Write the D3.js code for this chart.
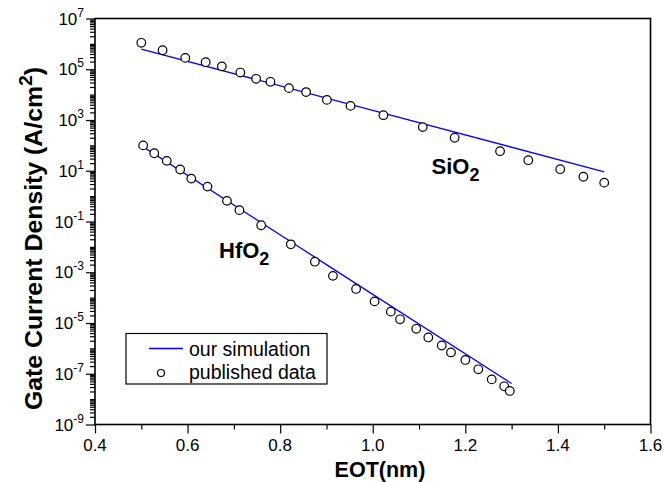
<!DOCTYPE html>
<html><head><meta charset="utf-8">
<script src="https://cdn.jsdelivr.net/npm/d3@7"></script>
<style>body{margin:0;background:#fff} svg{display:block} text{font-family:"Liberation Sans",Arial,sans-serif;fill:#000}</style>
</head><body><svg id="c" width="663" height="482"></svg>
<script>
// Published data (circles)
const sio2X = [0.50,0.546,0.595,0.639,0.674,0.714,0.748,0.779,0.819,0.856,0.901,0.952,1.023,1.108,1.177,1.275,1.336,1.405,1.455,1.50];
const sio2Y = [1.1e6,5.6e5,2.8e5,1.9e5,1.3e5,7.4e4,4.2e4,3.2e4,1.8e4,1.26e4,6.2e3,3.6e3,1.55e3,525,200,59,26,11.5,5.8,3.4];
const hfo2X = [0.504,0.528,0.555,0.584,0.608,0.643,0.685,0.712,0.759,0.823,0.875,0.914,0.964,1.004,1.039,1.059,1.094,1.120,1.149,1.169,1.200,1.228,1.257,1.284,1.296];
const hfo2Y = [100,49,24.5,11.2,4.9,2.37,0.65,0.28,0.071,0.0126,2.6e-3,7.2e-4,2.2e-4,7.1e-5,2.8e-5,1.4e-5,5.9e-6,2.7e-6,1.3e-6,6.9e-7,3.5e-7,1.5e-7,6.0e-8,3.2e-8,2.1e-8];
// Simulation (lines)
const simSio2X = [0.5,1.0,1.5];
const simSio2Y = [6.2e5,2.4e3,9.1];
const simHfo2X = [0.5,0.9,1.3];
const simHfo2Y = [98,2.0e-3,4.1e-8];
// Ticks
const xMajor = [0.4,0.6,0.8,1.0,1.2,1.4,1.6];
const xMinor = [0.5,0.7,0.9,1.1,1.3,1.5];
const xLabels = ["0.4","0.6","0.8","1.0","1.2","1.4","1.6"];
const yExpLabels = [7,5,3,1,-1,-3,-5,-7,-9];
const legendLabels = ["our simulation","published data"];

const L=95, R=650.5, T=18.5, B=424.5;
const svg = d3.select("#c");
const x = d3.scaleLinear().domain([0.4,1.6]).range([L,R]);
const y = d3.scaleLog().domain([1e-9,1e7]).range([B,T]);

// minor y ticks
const yMinor = [];
for (let e=-9; e<7; e++) for (let m=1; m<10; m++) {
  const v = m*Math.pow(10,e);
  if (m===1 && yExpLabels.includes(e)) continue;
  yMinor.push(v);
}
const yMajor = yExpLabels.map(e=>Math.pow(10,e));

function styleAxis(g){ g.select(".domain").remove(); g.selectAll("line").attr("stroke","#000").attr("stroke-width",1.2); }

svg.append("g").attr("transform",`translate(0,${B})`).call(d3.axisBottom(x).tickValues(xMajor).tickSize(9).tickFormat("")).call(styleAxis);
svg.append("g").attr("transform",`translate(0,${B})`).call(d3.axisBottom(x).tickValues(xMinor).tickSize(5).tickFormat("")).call(styleAxis);
svg.append("g").attr("transform",`translate(${L},0)`).call(d3.axisLeft(y).tickValues(yMajor).tickSize(9).tickFormat("")).call(styleAxis);
svg.append("g").attr("transform",`translate(${L},0)`).call(d3.axisLeft(y).tickValues(yMinor).tickSize(5).tickFormat("")).call(styleAxis);

// frame
svg.append("rect").attr("x",L).attr("y",T).attr("width",R-L).attr("height",B-T)
  .attr("fill","none").attr("stroke","#000").attr("stroke-width",1.6);

// x tick labels
svg.append("g").selectAll("text").data(xMajor).join("text")
  .attr("x",d=>x(d)).attr("y",451).attr("text-anchor","middle").attr("font-size",17)
  .text((d,i)=>xLabels[i]);

// y tick labels
const yl = svg.append("g").selectAll("text").data(yExpLabels).join("text")
  .attr("x",L-11).attr("y",e=>y(Math.pow(10,e))+6).attr("text-anchor","end").attr("font-size",17);
yl.append("tspan").text("10");
yl.append("tspan").attr("dy",-8).attr("font-size",12).text(e=>e<0?"-"+(-e):String(e));

// titles
svg.append("text").attr("x",380).attr("y",476.5).attr("text-anchor","middle")
  .attr("font-size",21.5).attr("font-weight","bold").text("EOT(nm)");
const yt = svg.append("text").attr("transform","translate(42,238.5) rotate(-90) scale(1.08,1)")
  .attr("text-anchor","middle").attr("font-size",23).attr("font-weight","bold");
yt.append("tspan").text("Gate Current Density (A/cm");
yt.append("tspan").attr("dy",-10).attr("font-size",18).text("2");
yt.append("tspan").attr("dy",10).text(")");

// lines
const line = d3.line().x(d=>x(d[0])).y(d=>y(d[1]));
[[simSio2X,simSio2Y],[simHfo2X,simHfo2Y]].forEach(([xs,ys])=>{
  svg.append("path").datum(xs.map((v,i)=>[v,ys[i]])).attr("d",line)
    .attr("fill","none").attr("stroke","#0000ff").attr("stroke-width",1.3);
});

// circles
[[sio2X,sio2Y],[hfo2X,hfo2Y]].forEach(([xs,ys])=>{
  svg.append("g").selectAll("circle").data(xs.map((v,i)=>[v,ys[i]])).join("circle")
    .attr("cx",d=>x(d[0])).attr("cy",d=>y(d[1])).attr("r",4.3)
    .attr("fill","#fff").attr("stroke","#000").attr("stroke-width",1.2);
});

// material labels
function matLabel(px,py,base){
  const t = svg.append("text").attr("x",px).attr("y",py).attr("font-size",22).attr("font-weight","bold");
  t.append("tspan").text(base);
  t.append("tspan").attr("dy",7).attr("font-size",18).text("2");
}
matLabel(431.5,173.5,"SiO");
matLabel(219,257.5,"HfO");

// legend
const lg = svg.append("g");
lg.append("rect").attr("x",126).attr("y",333.5).attr("width",201).attr("height",50.5)
  .attr("fill","#fff").attr("stroke","#000").attr("stroke-width",1.2);
lg.append("line").attr("x1",149).attr("x2",183).attr("y1",348.5).attr("y2",348.5)
  .attr("stroke","#0000ff").attr("stroke-width",1.3);
lg.append("circle").attr("cx",161).attr("cy",373).attr("r",3.5)
  .attr("fill","#fff").attr("stroke","#000").attr("stroke-width",1.2);
lg.selectAll("text.l").data(legendLabels).join("text").attr("class","l")
  .attr("x",189).attr("y",(d,i)=>355.5+i*23).attr("font-size",19.5).text(d=>d);
</script></body></html>
